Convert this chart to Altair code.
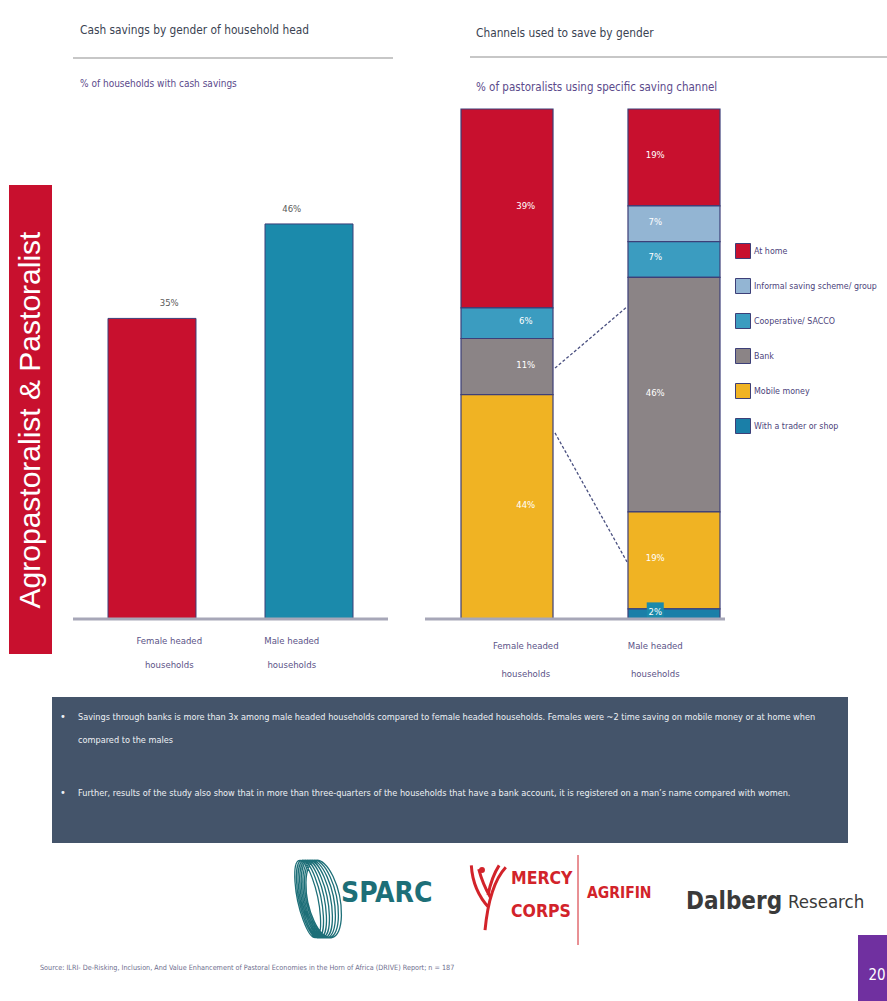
import math
import altair as alt
import pandas as pd

# ---------------- data ----------------
households = ["Female headed households", "Male headed households"]
household_ticks = ["Female headed\nhouseholds", "Male headed\nhouseholds"]
cash_savings = [35, 46]
household_colors = ["#c8102e", "#1b8aab"]

genders = ["Female headed households", "Male headed households"]
channels = ["At home", "Informal saving scheme/ group", "Cooperative/ SACCO",
            "Bank", "Mobile money", "With a trader or shop"]
female_channels = [39, 0, 6, 11, 44, 0]
male_channels = [19, 7, 7, 46, 19, 2]
channel_colors = ["#c8102e", "#93b5d3", "#3b9cc0", "#8b8486", "#f0b323", "#1a7fa8"]

# dashed connectors between the bars (position in % of the stacked bar)
connector_id = ["bank", "bank", "mobile", "mobile"]
connector_side = [0, 1, 0, 1]
connector_pct = [49.2, 61.2, 36.5, 11.2]

left_title = "Cash savings by gender of household head"
left_subtitle = "% of households with cash savings"
right_title = "Channels used to save by gender"
right_subtitle = "% of pastoralists using specific saving channel"
side_label = "Agropastoralist  &  Pastoralist"
bullet_lines = [
    "Savings through banks is more than 3x among male headed households compared to female headed households. Females were ~2 time saving on mobile money or at home when",
    "compared to the males",
    "Further, results of the study also show that in more than three-quarters of the households that have a bank account, it is registered on a man\u2019s name compared with women.",
]
source_text = "Source: ILRI- De-Risking, Inclusion, And Value Enhancement of Pastoral Economies in the Horn of Africa (DRIVE) Report; n = 187"
page_number = "20"

# ---------------- style ----------------
FONT = "Liberation Sans Narrow, DejaVu Sans Condensed, Arial Narrow, sans-serif"
TITLE_C = "#3a4352"
SUB_C = "#5b4a8b"
TICK_C = "#5b5387"
EDGE_C = "#3d3f78"

one = pd.DataFrame({"k": [0]})


def rect(x, x2, y, y2, color, **kw):
    return alt.Chart(one).mark_rect(color=color, **kw).encode(
        x=alt.value(x), x2=alt.value(x2), y=alt.value(y), y2=alt.value(y2))


def rule(x, x2, y, y2, color, width, **kw):
    return alt.Chart(one).mark_rule(color=color, strokeWidth=width, **kw).encode(
        x=alt.value(x), x2=alt.value(x2), y=alt.value(y), y2=alt.value(y2))


def label(x, y, text, size, color, align="left", font=FONT, **kw):
    return alt.Chart(one).mark_text(text=text, fontSize=size, color=color, font=font,
                                    align=align, baseline="middle", **kw).encode(
        x=alt.value(x), y=alt.value(y))


layers = []

# ---------------- headers ----------------
layers += [
    label(80, 30, left_title, 11.8, TITLE_C),
    rule(73, 393, 58, 58, "#b4b4b4", 1.5),
    label(80, 84, left_subtitle, 10, SUB_C),
    label(476, 33, right_title, 11.8, TITLE_C),
    rule(470, 887, 57, 57, "#b4b4b4", 1.5),
    label(476, 88, right_subtitle, 11.5, SUB_C),
]

# ---------------- side band ----------------
layers += [
    rect(9, 52, 185, 654, "#c8102e"),
    label(31, 420, side_label, 30, "white", align="center", font="Liberation Sans, Arial, sans-serif", angle=270),
]

# ---------------- left chart ----------------
left_df = pd.DataFrame({"household": households, "pct": cash_savings,
                        "label": [f"{v}%" for v in cash_savings], "tick": household_ticks})
left_x = alt.Scale(domain=households, range=[108, 353], paddingInner=0.4395, paddingOuter=0)
left_y = alt.Scale(domain=[0, 50], range=[619, 189.6])
lx = alt.X("household:N", scale=left_x, axis=None)

layers += [
    alt.Chart(left_df).mark_bar(stroke=EDGE_C, strokeWidth=1).encode(
        x=lx, y=alt.Y("pct:Q", scale=left_y, axis=None),
        color=alt.Color("household:N", scale=alt.Scale(domain=households, range=household_colors), legend=None)),
    alt.Chart(left_df).mark_text(dy=-15, fontSize=9.5, color="#5a5a5a", font=FONT).encode(
        x=lx, y=alt.Y("pct:Q", scale=left_y, axis=None), text="label:N"),
    rule(73, 388, 619, 619, "#a7a7b8", 3),
    alt.Chart(left_df).mark_text(fontSize=9.5, color=TICK_C, font=FONT, lineBreak="\n",
                                 lineHeight=24, baseline="top").encode(
        x=lx, y=alt.value(636), text="tick:N"),
]

# ---------------- right chart ----------------
rows = []
for g, vals in zip(genders, [female_channels, male_channels]):
    for i, (c, v) in enumerate(zip(channels, vals)):
        rows.append({"gender": g, "channel": c, "pct": v, "order": len(channels) - 1 - i})
right_df = pd.DataFrame(rows)

right_x = alt.Scale(domain=genders, range=[461, 720], paddingInner=0.449, paddingOuter=0)
right_y = alt.Scale(domain=[0, 100], range=[619, 109])
rx = alt.X("gender:N", scale=right_x, axis=None)

stacked = (alt.Chart(right_df)
           .transform_filter("datum.pct > 0")
           .transform_stack(stack="pct", groupby=["gender"],
                            sort=[alt.SortField("order", order="ascending")], as_=["y0", "y1"])
           .transform_calculate(mid="(datum.y0 + datum.y1) / 2", label="datum.pct + '%'"))

legend = alt.Legend(title=None, orient="none", legendX=735, legendY=243, symbolType="square",
                    symbolSize=225, symbolStrokeColor=EDGE_C, symbolStrokeWidth=1, symbolOpacity=1,
                    labelFont=FONT, labelFontSize=8.8, labelColor="#4b3f7a", rowPadding=15,
                    labelOffset=3, padding=0, labelLimit=250)

conn_df = pd.DataFrame({"id": connector_id, "side": connector_side, "pct": connector_pct})

layers += [
    stacked.mark_bar(stroke=EDGE_C, strokeWidth=1.2).encode(
        x=rx, y=alt.Y("y0:Q", scale=right_y, axis=None), y2="y1:Q",
        color=alt.Color("channel:N", scale=alt.Scale(domain=channels, range=channel_colors), legend=legend)),
    stacked.transform_filter("datum.pct < 5").mark_square(size=290, color="#1a8aab", opacity=1).encode(
        x=rx, y=alt.Y("mid:Q", scale=right_y, axis=None), yOffset=alt.value(-3)),
    stacked.mark_text(color="white", fontSize=9.5, font=FONT).encode(
        x=rx, y=alt.Y("mid:Q", scale=right_y, axis=None), yOffset=alt.value(-2), text="label:N"),
    alt.Chart(conn_df).mark_line(strokeDash=[3, 2], color="#4a5080", strokeWidth=1.3).encode(
        x=alt.X("side:Q", scale=alt.Scale(domain=[0, 1], range=[555, 627]), axis=None),
        y=alt.Y("pct:Q", scale=right_y, axis=None), detail="id:N"),
    rule(425, 725, 619, 619, "#a7a7b8", 3),
    alt.Chart(pd.DataFrame({"gender": genders, "tick": household_ticks})).mark_text(
        fontSize=9.5, color=TICK_C, font=FONT, lineBreak="\n", lineHeight=28, baseline="top").encode(
        x=rx, y=alt.value(641), text="tick:N"),
]

# ---------------- commentary box ----------------
BODY = 9.1
layers += [
    rect(52, 848, 697, 843, "#44546a"),
    label(60, 717, "\u2022", 11, "#eef1f5"),
    label(78, 717, bullet_lines[0], BODY, "#eef1f5"),
    label(78, 740, bullet_lines[1], BODY, "#eef1f5"),
    label(60, 793, "\u2022", 11, "#eef1f5"),
    label(78, 793, bullet_lines[2], BODY, "#eef1f5"),
]

# ---------------- logos ----------------
def ellipse_path(n=8):
    parts = []
    rot = -12
    for i in range(n):
        cx = -0.2 + 0.055 * i
        rxx, ryy = 0.24 + 0.02 * i, 0.95
        t = math.radians(rot + 90)
        dx, dy = ryy * math.cos(t), ryy * math.sin(t)
        x1, y1 = cx + dx, dy
        x2, y2 = cx - dx, -dy
        parts.append(f"M{x1:.3f},{y1:.3f}A{rxx:.3f},{ryy:.3f} {rot} 1,1 {x2:.3f},{y2:.3f}"
                     f"A{rxx:.3f},{ryy:.3f} {rot} 1,1 {x1:.3f},{y1:.3f}")
    return " ".join(parts)


mercy_path = ("M-0.45,-0.8 C-0.42,-0.3 -0.2,0.1 0.03,0.35 "
              "M0.48,-0.75 C0.2,-0.45 0.0,0.1 -0.08,0.95 "
              "M-0.25,-0.7 C-0.17,-0.4 -0.06,-0.15 0.06,0.05 "
              "M0.3,-0.8 C0.17,-0.6 0.06,-0.3 0.0,0.0")

layers += [
    alt.Chart(one).mark_point(shape=ellipse_path(), size=6900, filled=False, color="#1d6f78",
                              strokeWidth=1.3, opacity=1).encode(x=alt.value(316), y=alt.value(899)),
    label(341, 894, "SPARC", 28, "#1d6f78", fontWeight="bold"),
    alt.Chart(one).mark_point(shape=mercy_path, size=5500, filled=False, color="#d2232a",
                              strokeWidth=3, opacity=1).encode(x=alt.value(488), y=alt.value(895)),
    alt.Chart(one).mark_circle(size=35, color="#d2232a", opacity=1).encode(x=alt.value(482), y=alt.value(870)),
    label(511, 879, "MERCY", 17.5, "#d2232a", fontWeight="bold"),
    label(511, 912, "CORPS", 17.5, "#d2232a", fontWeight="bold"),
    rule(578, 578, 855, 945, "#d2232a", 1),
    label(587, 893, "AGRIFIN", 15.5, "#d2232a", fontWeight="bold"),
    label(686, 902, "Dalberg", 24, "#3a3a3a", fontWeight="bold"),
    label(788, 902, "Research", 18.5, "#3a3a3a"),
]

# ---------------- footer ----------------
layers += [
    label(40, 968, source_text, 7.2, "#6e6e8e"),
    rect(858, 887, 935, 1001, "#7030a0"),
    label(877, 975, page_number, 15, "white", align="center"),
]

chart = (alt.layer(*layers)
         .resolve_scale(x="independent", y="independent", color="independent")
         .properties(width=887, height=1001, padding=0,
                     autosize=alt.AutoSizeParams(type="none"), background="white")
         .configure_view(stroke=None))

chart.save("out.html", embed_options={"renderer": "svg", "actions": False})
